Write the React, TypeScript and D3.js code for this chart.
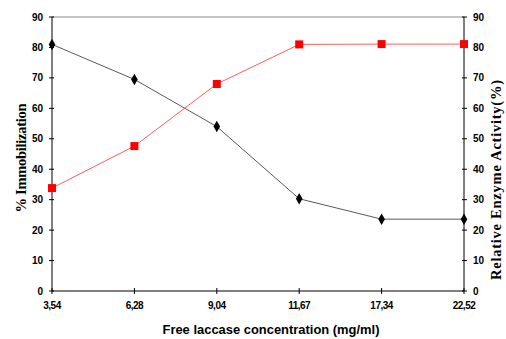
import * as d3 from 'd3';

const concentrations = ['3,54', '6,28', '9,04', '11,67', '17,34', '22,52'];
const immobilization = [81, 69.5, 54, 30.3, 23.6, 23.6];
const enzymeActivity = [33.8, 47.6, 68, 81, 81.1, 81.1];
const yTicks = [0, 10, 20, 30, 40, 50, 60, 70, 80, 90];

const width = 506;
const height = 339;
const margin = { top: 17, right: 42, bottom: 48, left: 52 };

const App = () => {
  const x = d3.scalePoint<string>()
    .domain(concentrations)
    .range([margin.left, width - margin.right]);

  const y = d3.scaleLinear()
    .domain([0, 90])
    .range([height - margin.bottom, margin.top]);

  const line = d3.line<number>()
    .x((_, i) => x(concentrations[i]) || 0)
    .y(d => y(d));

  const diamond = d3.symbol().type(d3.symbolDiamond).size(38)() || '';
  const x0 = margin.left;
  const x1 = width - margin.right;
  const yb = height - margin.bottom;

  return (
    <svg width={width} height={height}
      style={{ position: 'absolute', left: 0, top: 0, background: '#fff' }}>
      {/* top frame line */}
      <line x1={x0} x2={x1} y1={margin.top} y2={margin.top} stroke="#888" strokeWidth={1} />

      {/* axes */}
      <line x1={x0} x2={x0} y1={margin.top} y2={yb} stroke="#000" />
      <line x1={x1} x2={x1} y1={margin.top} y2={yb} stroke="#000" />
      <line x1={x0} x2={x1} y1={yb} y2={yb} stroke="#000" />

      {yTicks.map(t => (
        <g key={t} fontFamily="Liberation Sans, Arial, sans-serif" fontWeight="bold" fontSize={10}>
          <line x1={x0 - 3} x2={x0 + 2} y1={y(t)} y2={y(t)} stroke="#000" />
          <line x1={x1 - 2} x2={x1 + 3} y1={y(t)} y2={y(t)} stroke="#000" />
          <text x={x0 - 9} y={y(t)} dy="0.35em" textAnchor="end">{t}</text>
          <text x={x1 + 9} y={y(t)} dy="0.35em" textAnchor="start">{t}</text>
        </g>
      ))}

      {concentrations.map(c => (
        <g key={c}>
          <line x1={x(c)} x2={x(c)} y1={yb - 3} y2={yb + 3} stroke="#000" />
          <text x={x(c)} y={yb + 18} textAnchor="middle"
            fontFamily="Liberation Sans, Arial, sans-serif" fontWeight="bold" fontSize={10}
            letterSpacing={-0.5}>{c}</text>
        </g>
      ))}

      {/* series */}
      <path d={line(immobilization) || ''} fill="none" stroke="#5a5a5a" strokeWidth={1} />
      <path d={line(enzymeActivity) || ''} fill="none" stroke="#ff5c5c" strokeWidth={1} />

      {immobilization.map((v, i) => (
        <path key={'d' + i} d={diamond}
          transform={`translate(${x(concentrations[i])},${y(v)})`} fill="#000" />
      ))}
      {enzymeActivity.map((v, i) => (
        <rect key={'s' + i} x={(x(concentrations[i]) || 0) - 4} y={y(v) - 4}
          width={8} height={8} fill="#ff0000" />
      ))}

      {/* axis titles */}
      <text x={271} y={334} textAnchor="middle" textLength={217} lengthAdjust="spacingAndGlyphs"
        fontFamily="Liberation Sans, Arial, sans-serif" fontWeight="bold" fontSize={12.5}>
        Free laccase concentration (mg/ml)
      </text>
      <text transform="translate(26,158) rotate(-90)" textAnchor="middle"
        textLength={109} lengthAdjust="spacing"
        fontFamily="Liberation Serif, Times New Roman, serif" fontWeight="bold" fontSize={14.5}>
        % Immobilization
      </text>
      <text transform="translate(501,180) rotate(-90)" textAnchor="middle"
        textLength={200} lengthAdjust="spacing"
        fontFamily="Liberation Serif, Times New Roman, serif" fontWeight="bold" fontSize={14.5}>
        Relative Enzyme Activity(%)
      </text>
    </svg>
  );
};

export default App;
